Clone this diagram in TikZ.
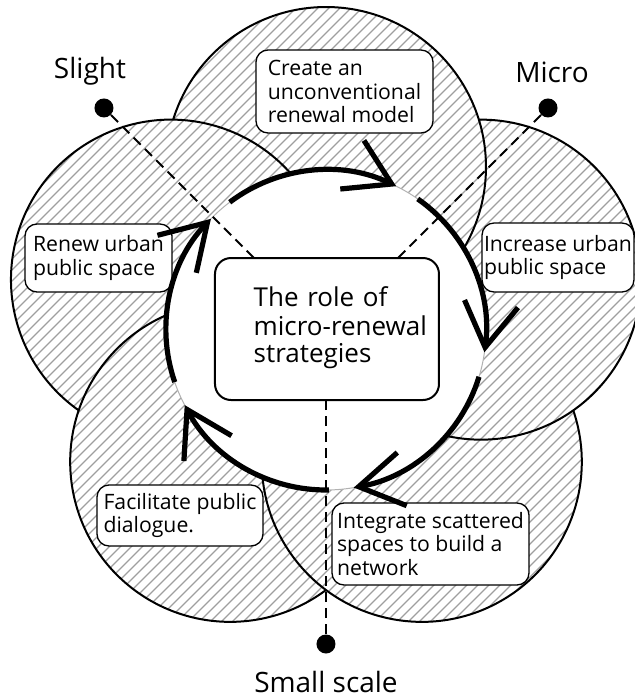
\documentclass[tikz,border=0pt]{standalone}
\usepackage{fontspec}
\setmainfont{Open Sans}
\usetikzlibrary{arrows.meta}
\usetikzlibrary{positioning}

\tikzset{
  hatch/.style={gray!75, line width=0.55pt},
  rim/.style={line width=1pt},
  ringseg/.style={line width=2.6pt, -{Straight Barb[length=22pt,width=27pt]}},
  guide/.style={line width=1pt, dash pattern=on 5pt off 3pt},
  textbox/.style={draw, fill=white, rounded corners=6pt, line width=0.65pt, align=left, inner sep=1pt, font=\fontsize{10.6pt}{11.8pt}\selectfont},
  rolebox/.style={draw, fill=white, rounded corners=8pt, line width=1pt, align=right, text width=100pt, inner xsep=6pt, minimum height=71pt, font=\fontsize{13pt}{13.8pt}\selectfont},
  dot/.style={circle, fill=black, inner sep=0pt, minimum size=9.5pt},
  tag/.style={inner sep=2pt, font=\fontsize{14pt}{16pt}\selectfont},
}

\begin{document}
\begin{tikzpicture}[x=0.5pt,y=0.5pt]
        \useasboundingbox (-326,-368) rectangle (308,330);
        \coordinate (O) at (0,0);
        \coordinate (c1) at (90:163);
        \coordinate (c2) at (18:163);
        \coordinate (c3) at (-54:163);
        \coordinate (c4) at (-126:163);
        \coordinate (c5) at (162:163);
        % hatched petals
        \begin{scope}
            \clip (c1) circle[radius=160] (c2) circle[radius=160] (c3) circle[radius=160]
                  (c4) circle[radius=160] (c5) circle[radius=160];
            \foreach \k in {-660,-649,...,660}
                \draw[hatch] (-400,{-400+\k}) -- (400,{400+\k});
        \end{scope}
        % each petal hides under the one before it
        \foreach \a/\n in {90/1,18/2,-54/3,-126/4,162/5}
            \draw[rim] (c\n) ++({\a+179.2}:160) arc[start angle=\a+179.2, end angle=\a+432.8, radius=160];
        \fill[white] (O) circle[radius=160];
        \draw[gray!60, line width=0.5pt] (O) circle[radius=160];

        \node[dot] (slightdot) at (135:314) {};
        \node[dot] (microdot) at (45:314) {};
        \node[dot] (smalldot) at (-90:314) {};
        \node[tag, above=4pt of slightdot, xshift=-7pt] (slight) {Slight};
        \node[tag, above=5.5pt of microdot, xshift=2pt] (micro) {Micro};
        \node[tag, below=6.5pt of smalldot] (small) {Small scale};
        \draw[guide] (slightdot) -- (O);
        \draw[guide] (microdot) -- (O);
        \draw[guide] (smalldot) -- (O);

        \node[rolebox] (role) at (1,1) {\begin{tabular}{@{}l@{}}The role of\\micro-renewal\\strategies\end{tabular}};
        \node[textbox, minimum width=88.5pt, minimum height=41.5pt] (create) at (18.5,238.5) {Create an\\unconventional\\renewal model};
        \node[textbox, minimum width=73.5pt, minimum height=34pt] (renew) at (-227.5,72) {Renew urban\\public space};
        \node[textbox, minimum width=75pt, minimum height=34.5pt] (increase) at (232,72.5) {Increase urban\\public space};
        \node[textbox, minimum width=83pt, minimum height=30.5pt] (dialogue) at (-146,-185.5) {Facilitate public\\dialogue.};
        \node[textbox, minimum width=98.5pt, minimum height=41pt] (network) at (104.5,-214) {Integrate scattered\\spaces to build a\\network};

        % clockwise ring of arrows
        \foreach \t in {64,-8,-80,-152,-224}
            \draw[ringseg] (O) ++({\t+63}:160) arc[start angle=\t+63, end angle=\t, radius=160];
\end{tikzpicture}
\end{document}
